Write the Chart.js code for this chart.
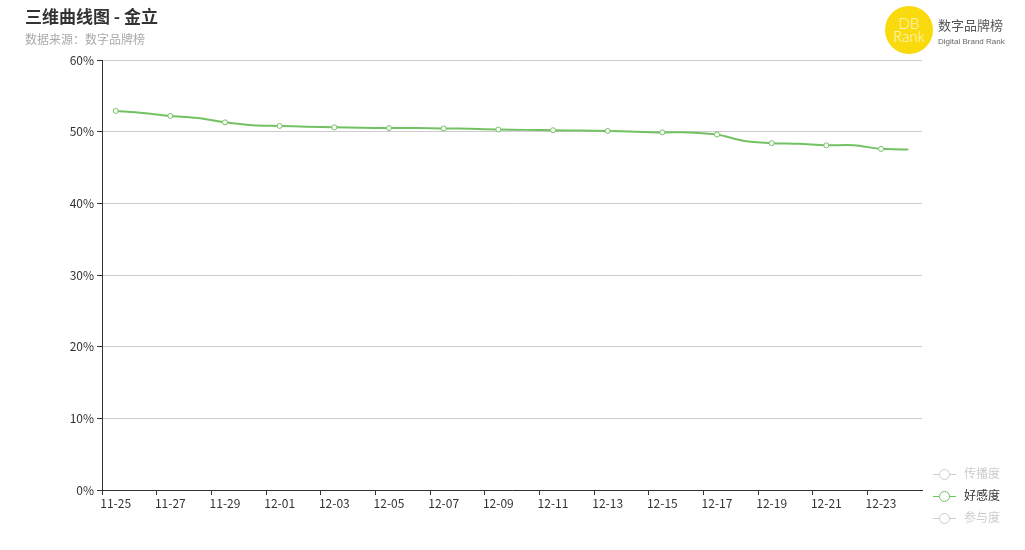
<!DOCTYPE html>
<html>
<head>
<meta charset="utf-8">
<script src="https://cdn.jsdelivr.net/npm/chart.js@4"></script>
<style>
  body { margin:0; background:#fff; font-family:"Noto Sans CJK SC","Noto Sans",sans-serif; }
  #wrap { position:relative; width:1025px; height:550px; }
  #title { position:absolute; left:25px; top:3px; font-size:17px; font-weight:bold; color:#333; }
  #sub { position:absolute; left:25px; top:30px; font-size:12px; color:#aaa; }
  #logo { position:absolute; left:885px; top:6px; width:48px; height:48px; border-radius:50%; background:#f9da0d; color:rgba(255,255,255,0.85); font-family:"Lato","DejaVu Sans",sans-serif; font-weight:300; font-size:15px; line-height:13px; text-align:center; padding-top:11px; box-sizing:border-box; }
  #brand { position:absolute; left:938px; top:15px; font-size:13px; color:#555; }
  #brand2 { position:absolute; left:938px; top:37px; font-size:8px; color:#666; font-family:"Liberation Sans",sans-serif; }
  .leg { position:absolute; left:933px; font-size:12px; height:14px; line-height:14px; }
  .leg .ln { position:absolute; left:0; top:7px; width:23px; height:1px; }
  .leg .dot { position:absolute; left:6px; top:2px; width:9px; height:9px; border-radius:50%; background:#fff; border:1px solid; }
  .leg span { position:absolute; left:31px; top:-1px; white-space:nowrap; }
  canvas { position:absolute; left:0; top:0; }
</style>
</head>
<body>
<div id="wrap">
  <canvas id="c" width="1025" height="550"></canvas>
  <div id="title">三维曲线图 - 金立</div>
  <div id="sub">数据来源：数字品牌榜</div>
  <div id="logo">DB<br>Rank</div>
  <div id="brand">数字品牌榜</div>
  <div id="brand2">Digital Brand Rank</div>
  <div id="legend"></div>
</div>
<script>
var days = ['11-25','11-26','11-27','11-28','11-29','11-30','12-01','12-02','12-03','12-04',
  '12-05','12-06','12-07','12-08','12-09','12-10','12-11','12-12','12-13','12-14',
  '12-15','12-16','12-17','12-18','12-19','12-20','12-21','12-22','12-23','12-24'];
var haogan = [52.9,52.6,52.2,51.9,51.3,50.9,50.8,50.7,50.6,50.55,
  50.5,50.5,50.45,50.4,50.3,50.25,50.2,50.15,50.1,50.0,
  49.9,49.9,49.6,48.7,48.4,48.3,48.1,48.1,47.6,47.5];
var yTicks = [0,10,20,30,40,50,60];
var legendNames = ['传播度','好感度','参与度'];
var legendOn = [false,true,false];
var green = '#72c162';

// legend on the right
var leg = document.getElementById('legend');
var tops = [467,489,511];
for (var i=0;i<legendNames.length;i++) {
  var c = legendOn[i] ? green : '#ccc';
  var d = document.createElement('div');
  d.className = 'leg';
  d.style.top = tops[i] + 'px';
  d.innerHTML = '<div class="ln" style="background:'+c+'"></div><div class="dot" style="border-color:'+c+'"></div>'+
    '<span style="color:'+(legendOn[i]?'#333':'#ccc')+'">'+legendNames[i]+'</span>';
  leg.appendChild(d);
}

new Chart(document.getElementById('c'), {
  type: 'line',
  data: {
    labels: days,
    datasets: [{
      label: '好感度',
      data: haogan,
      borderColor: green,
      borderWidth: 2,
      backgroundColor: '#fff',
      pointBorderColor: green,
      pointBackgroundColor: '#fff',
      pointBorderWidth: 1,
      pointRadius: function(ctx){ return ctx.dataIndex % 2 === 0 && ctx.dataIndex < 29 ? 2.5 : 0; },
      tension: 0.3,
      fill: false
    }]
  },
  options: {
    responsive: false,
    animation: false,
    layout: { padding: { left: 40, right: 103, top: 60, bottom: 30 } },
    plugins: { legend: { display: false }, tooltip: { enabled: false } },
    scales: {
      x: {
        type: 'category',
        offset: true,
        grid: {
          offset: true,
          drawOnChartArea: false,
          tickLength: 5,
          tickColor: function(ctx){ return ctx.index % 2 === 0 ? '#333' : 'rgba(0,0,0,0)'; }
        },
        border: { color: '#333', width: 1 },
        ticks: {
          autoSkip: false,
          maxRotation: 0,
          padding: 1,
          color: '#333',
          font: { size: 12, family: '"Noto Sans CJK SC","Noto Sans",sans-serif' },
          callback: function(v, i){ return i % 2 === 0 ? days[i] : ''; }
        },
        afterFit: function(s){ s.height = 30; }
      },
      y: {
        min: 0,
        max: 60,
        afterBuildTicks: function(s){ s.ticks = yTicks.map(function(v){ return { value: v }; }); },
        grid: { color: '#ccc', tickColor: '#333', tickLength: 5 },
        border: { color: '#333', width: 1 },
        ticks: {
          color: '#333',
          padding: 3,
          font: { size: 12, family: '"Noto Sans CJK SC","Noto Sans",sans-serif' },
          callback: function(v){ return v + '%'; }
        },
        afterFit: function(s){ s.width = 62; }
      }
    }
  }
});
</script>
</body>
</html>
